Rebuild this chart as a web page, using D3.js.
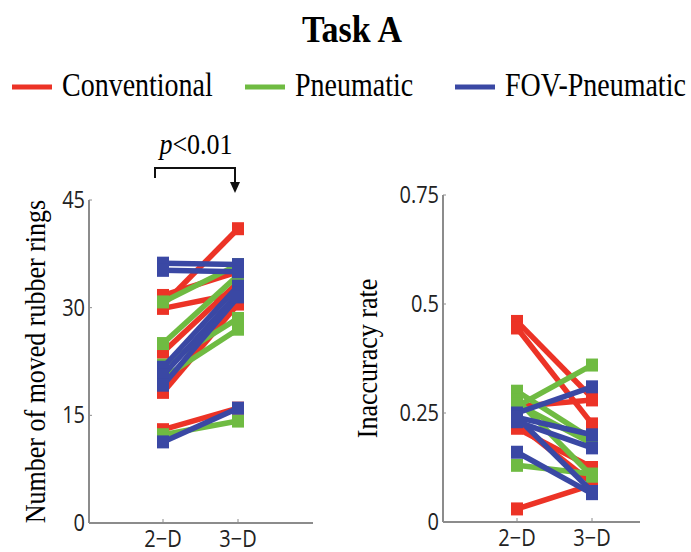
<!DOCTYPE html>
<html><head><meta charset="utf-8">
<script src="https://cdn.jsdelivr.net/npm/d3@7"></script>
<style>body{margin:0;background:#fff}svg{display:block}</style>
</head><body>
<script>
// ---- data ----
const conditions = ["2\u2212D", "3\u2212D"];
const groups = ["Conventional", "Pneumatic", "FOV-Pneumatic"];
const groupColors = ["#ec3326", "#6fbb42", "#3a48a4"];

// Panel A: number of moved rubber rings [2-D, 3-D]
const ringsConventional = [[30.4, 41], [31.7, 35], [29.9, 32], [23.8, 33.5], [18.2, 30.5], [13, 16]];
const ringsPneumatic    = [[30.8, 36], [25, 34.5], [20.2, 27], [22, 28.5], [12.3, 14.2]];
const ringsFOV          = [[36.2, 36], [35.2, 35], [21.7, 33], [20.6, 32], [19.2, 31.5], [11.3, 16]];
const ringsTicks = [0, 15, 30, 45];

// Panel B: inaccuracy rate [2-D, 3-D]
const inaccConventional = [[0.46, 0.285], [0.445, 0.225], [0.265, 0.28], [0.215, 0.125], [0.225, 0.09], [0.03, 0.085]];
const inaccPneumatic    = [[0.265, 0.36], [0.30, 0.19], [0.28, 0.105], [0.27, 0.18], [0.13, 0.11]];
const inaccFOV          = [[0.25, 0.31], [0.24, 0.20], [0.23, 0.17], [0.16, 0.065], [0.24, 0.07]];
const inaccTicks = [0, 0.25, 0.5, 0.75];
const inaccTickLabels = ["0", "0.25", "0.5", "0.75"];

const W = 691, H = 552;
const svg = d3.select("body").append("svg").attr("width", W).attr("height", H);
const serif = "'Liberation Serif','Times New Roman',serif";
const sans = "'Open Sans','Noto Sans',sans-serif";
const SY = 1.18; // vertical stretch of text as in the reference

function stext(parent, x, y, anchor, family, size, str, sy) {
  return parent.append("text").attr("transform", `translate(${x},${y}) scale(1,${sy || SY})`)
    .attr("text-anchor", anchor).style("font-family", family).style("font-size", size + "px").text(str);
}

// title
stext(svg, 352, 42, "middle", serif, 34, "Task A", 1.1).style("font-weight", "bold");

// legend
const legendX = [12, 245, 455];
groups.forEach((g, i) => {
  svg.append("line").attr("x1", legendX[i]).attr("x2", legendX[i] + 40).attr("y1", 87).attr("y2", 87)
    .attr("stroke", groupColors[i]).attr("stroke-width", 5);
  stext(svg, legendX[i] + 50, 96, "start", serif, 28, g, 1.2);
});

function panel(opts) {
  const x = d3.scalePoint().domain(conditions).range([opts.x0 + 74, opts.x0 + 149]);
  const y = d3.scaleLinear().domain([0, opts.max]).range([opts.yb, opts.yt]);
  const g = svg.append("g");
  const axisCol = "#8c8c8c";
  g.append("line").attr("x1", opts.x0).attr("x2", opts.x1).attr("y1", opts.yb).attr("y2", opts.yb)
    .attr("stroke", axisCol).attr("stroke-width", 2);
  g.append("line").attr("x1", opts.x0).attr("x2", opts.x0).attr("y1", opts.yb).attr("y2", opts.yt)
    .attr("stroke", axisCol).attr("stroke-width", 2);
  opts.ticks.forEach((t, i) => {
    g.append("line").attr("x1", opts.x0).attr("x2", opts.x0 + 3).attr("y1", y(t)).attr("y2", y(t))
      .attr("stroke", axisCol).attr("stroke-width", 1);
    stext(g, opts.x0 - 4, y(t) + 8, "end", sans, 20, opts.tickLabels[i]).attr("fill", "#222");
  });
  conditions.forEach(c => {
    g.append("line").attr("x1", x(c)).attr("x2", x(c)).attr("y1", opts.yb).attr("y2", opts.yb - 4)
      .attr("stroke", axisCol).attr("stroke-width", 1);
    stext(g, x(c), opts.yb + 24, "middle", sans, 20, c).attr("fill", "#222");
  });
  g.append("text").attr("transform", `translate(${opts.labelX},${(opts.yb + opts.yt) / 2}) rotate(-90) scale(1,1.12)`)
    .attr("text-anchor", "middle").style("font-family", serif).style("font-size", "26px").text(opts.label);
  const line = d3.line().x((d, i) => x(conditions[i])).y(d => y(d));
  opts.series.forEach((s, gi) => s.forEach(p => {
    g.append("path").attr("d", line(p)).attr("fill", "none").attr("stroke", groupColors[gi]).attr("stroke-width", 5.5);
    p.forEach((v, i) => {
      g.append("rect").attr("x", x(conditions[i]) - 6).attr("y", y(v) - 6.5).attr("width", 12).attr("height", 13)
        .attr("fill", groupColors[gi]);
    });
  }));
  return {x, y};
}

const pa = panel({x0: 89, x1: 313, yb: 523, yt: 200, max: 45, ticks: ringsTicks,
  tickLabels: ringsTicks.map(String), label: "Number of moved rubber rings", labelX: 45,
  series: [ringsConventional, ringsPneumatic, ringsFOV]});
panel({x0: 443, x1: 640, yb: 522, yt: 195, max: 0.75, ticks: inaccTicks,
  tickLabels: inaccTickLabels, label: "Inaccuracy rate", labelX: 377,
  series: [inaccConventional, inaccPneumatic, inaccFOV]});

// significance bracket
const bx1 = pa.x(conditions[0]) - 8, bx2 = pa.x(conditions[1]) - 3;
svg.append("path").attr("d", `M${bx1},178 V168 H${bx2} V186`).attr("fill", "none").attr("stroke", "#111").attr("stroke-width", 2);
svg.append("path").attr("d", `M${bx2 - 5},182 L${bx2 + 5},182 L${bx2},193 Z`).attr("fill", "#111");
const pt = stext(svg, 196, 154, "middle", serif, 26, "", 1.12);
pt.append("tspan").style("font-style", "italic").text("p");
pt.append("tspan").text("<0.01");
</script>
</body></html>
